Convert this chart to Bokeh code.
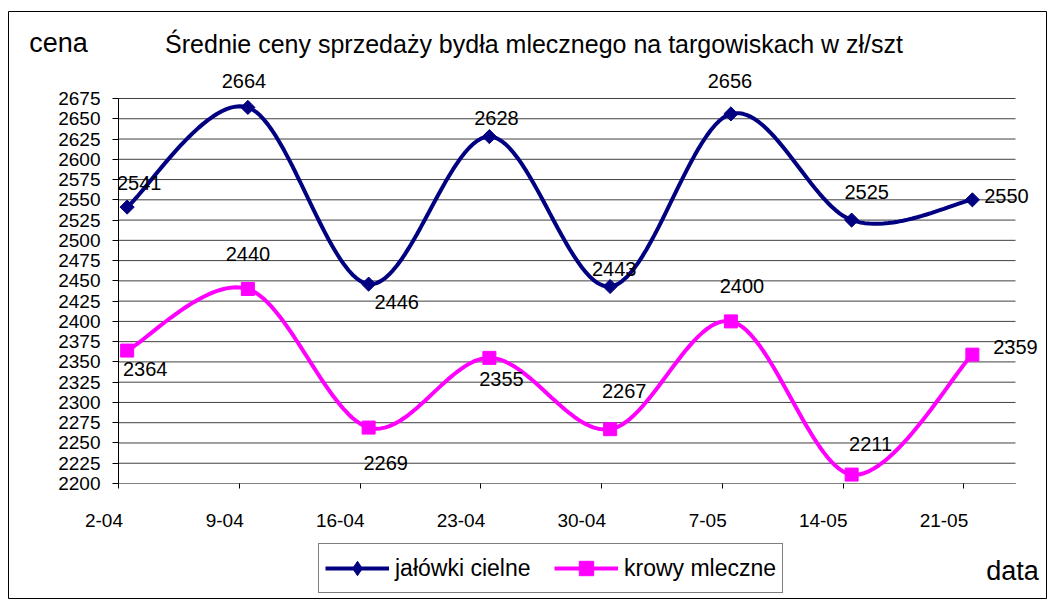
import numpy as np
from bokeh.plotting import figure
from bokeh.models import Range1d, FixedTicker, Label, Legend, LegendItem
from bokeh.embed import file_html
from bokeh.resources import INLINE

# ---------------- data ----------------
tick_labels = ["2-04", "9-04", "16-04", "23-04", "30-04", "7-05", "14-05", "21-05"]
tick_days = [0, 7, 14, 21, 28, 35, 42, 49]          # days since 2-04
sample_days = [0.5, 7.5, 14.5, 21.5, 28.5, 35.5, 42.5, 49.5]
jalowki = [2541, 2664, 2446, 2628, 2443, 2656, 2525, 2550]
krowy = [2364, 2440, 2269, 2355, 2267, 2400, 2211, 2359]
y_ticks = list(range(2200, 2676, 25))
title_text = "Średnie ceny sprzedaży bydła mlecznego na targowiskach w  zł/szt"
series_names = ["jałówki cielne", "krowy mleczne"]

# ---------------- layout constants (page pixels) ----------------
FONT = "Liberation Sans"
X0, X1, Y0, Y1 = 0, 52, 2200, 2675               # plot-area data extent
FR_L, FR_R, FR_T, FR_B = 118, 1015, 98, 483      # plot area in page px
CH_L, CH_R, CH_T, CH_B = 8, 1046, 11, 598        # chart border in page px
SX = (X1 - X0) / (FR_R - FR_L)
SY = (Y1 - Y0) / (FR_B - FR_T)


def page_x(xp):
    return X0 + (xp - FR_L) * SX


def page_y(yp):
    return Y0 + (FR_B - yp) * SY


def smooth(xs, ys, n=30):
    P = np.column_stack([xs, ys]).astype(float)
    out = []
    m = len(P)
    for i in range(m - 1):
        p0 = P[i - 1] if i > 0 else P[i]
        p1, p2 = P[i], P[i + 1]
        p3 = P[i + 2] if i + 2 < m else P[i + 1]
        c1 = p1 + (p2 - p0) / 6.0
        c2 = p2 - (p3 - p1) / 6.0
        t = np.linspace(0, 1, n, endpoint=(i == m - 2))[:, None]
        seg = ((1 - t) ** 3) * p1 + 3 * ((1 - t) ** 2) * t * c1 + 3 * (1 - t) * t ** 2 * c2 + t ** 3 * p2
        out.append(seg)
    out = np.vstack(out)
    return out[:, 0], out[:, 1]


W = CH_R - CH_L + 2
H = CH_B - CH_T + 2
p = figure(width=W, height=H,
           x_range=Range1d(page_x(CH_L), page_x(CH_R)),
           y_range=Range1d(page_y(CH_B), page_y(CH_T)),
           output_backend="svg", toolbar_location=None,
           min_border_left=1, min_border_right=1, min_border_top=1, min_border_bottom=1,
           background_fill_color="white", border_fill_color="white")
p.styles = {"margin-left": f"{CH_L - 1}px", "margin-top": f"{CH_T - 1}px"}
p.outline_line_color = "black"
p.outline_line_width = 1
p.xgrid.visible = False
p.ygrid.visible = False

# horizontal gridlines across the plot area
p.segment(x0=X0, x1=X1, y0=y_ticks, y1=y_ticks, line_color="#404040", line_width=1)

# y axis (drawn at the left edge of the plot area)
p.yaxis.fixed_location = X0
p.yaxis.bounds = (Y0, Y1)
p.yaxis.ticker = FixedTicker(ticks=y_ticks)
p.yaxis.axis_line_color = "black"
p.yaxis.major_tick_line_color = "black"
p.yaxis.major_tick_out = 6
p.yaxis.major_tick_in = 0
p.yaxis.minor_tick_line_color = None
p.yaxis.major_label_standoff = 12
p.yaxis.major_label_text_font = FONT
p.yaxis.major_label_text_font_size = "19px"
p.yaxis.major_label_text_color = "black"

# x axis (drawn at the bottom of the plot area)
p.xaxis.fixed_location = Y0
p.xaxis.bounds = (X0, X1)
p.xaxis.ticker = FixedTicker(ticks=tick_days)
p.xaxis.axis_line_color = "#808080"
p.xaxis.major_tick_line_color = "black"
p.xaxis.major_tick_out = 5
p.xaxis.major_tick_in = 0
p.xaxis.minor_tick_line_color = None
p.xaxis.major_label_text_color = None

for d, lab in zip(tick_days, tick_labels):
    p.add_layout(Label(x=d + 4.5 * SX, y=page_y(520), text=lab, text_align="right",
                       text_baseline="middle", text_font=FONT, text_font_size="19px",
                       text_color="black"))

# series
NAVY = "#000080"
MAG = "#FF00FF"
sx1, sy1 = smooth(sample_days, jalowki)
sx2, sy2 = smooth(sample_days, krowy)
l1 = p.line(sx1, sy1, line_color=NAVY, line_width=4)
m1 = p.scatter(sample_days, jalowki, marker="square", angle=np.pi / 4, size=10,
               fill_color=NAVY, line_color=NAVY)
l2 = p.line(sx2, sy2, line_color=MAG, line_width=4)
m2 = p.scatter(sample_days, krowy, marker="square", size=13, fill_color=MAG, line_color=MAG)
# legend symbol for the diamond series (hidden in the plot itself)
m1_leg = p.scatter(sample_days, jalowki, marker="diamond", size=14,
                   fill_color=NAVY, line_color=NAVY, visible=False)

# data labels (pixel offsets right/up from each point)
off1 = [(12, 24), (-4, 26), (28, -18), (7, 19), (4, 18), (-1, 33), (15, 28), (34, 4)]
off2 = [(18, -18), (0, 35), (17, -35), (12, -21), (14, 38), (11, 35), (19, 31), (43, 8)]
for xs, vals, offs in ((sample_days, jalowki, off1), (sample_days, krowy, off2)):
    for x, v, (dx, dy) in zip(xs, vals, offs):
        p.add_layout(Label(x=x + dx * SX, y=v + dy * SY, text=str(v), text_align="center",
                           text_baseline="middle", text_font=FONT, text_font_size="20px",
                           text_color="black"))

# titles
p.add_layout(Label(x=page_x(537), y=page_y(43), text=title_text, text_align="center",
                   text_baseline="middle", text_font=FONT, text_font_size="25px",
                   text_color="black"))
p.add_layout(Label(x=page_x(58), y=page_y(42.5), text="cena", text_align="center",
                   text_baseline="middle", text_font=FONT, text_font_size="27px",
                   text_color="black"))
p.add_layout(Label(x=page_x(1012), y=page_y(570.5), text="data", text_align="center",
                   text_baseline="middle", text_font=FONT, text_font_size="27px",
                   text_color="black"))

legend = Legend(items=[LegendItem(label=series_names[0], renderers=[l1, m1_leg]),
                       LegendItem(label=series_names[1], renderers=[l2, m2])],
                orientation="horizontal", location=(318 - CH_L, CH_B - 593))
legend.border_line_color = "black"
legend.border_line_width = 1
legend.background_fill_color = "white"
legend.background_fill_alpha = 1
legend.label_text_font = FONT
legend.label_text_font_size = "23px"
legend.label_text_color = "black"
legend.glyph_width = 64
legend.glyph_height = 36
legend.label_height = 36
legend.label_width = 148
legend.label_standoff = 6
legend.spacing = 11
legend.padding = 6
legend.margin = 0
p.add_layout(legend, "center")

open("out.html", "w").write(file_html(p, INLINE))
